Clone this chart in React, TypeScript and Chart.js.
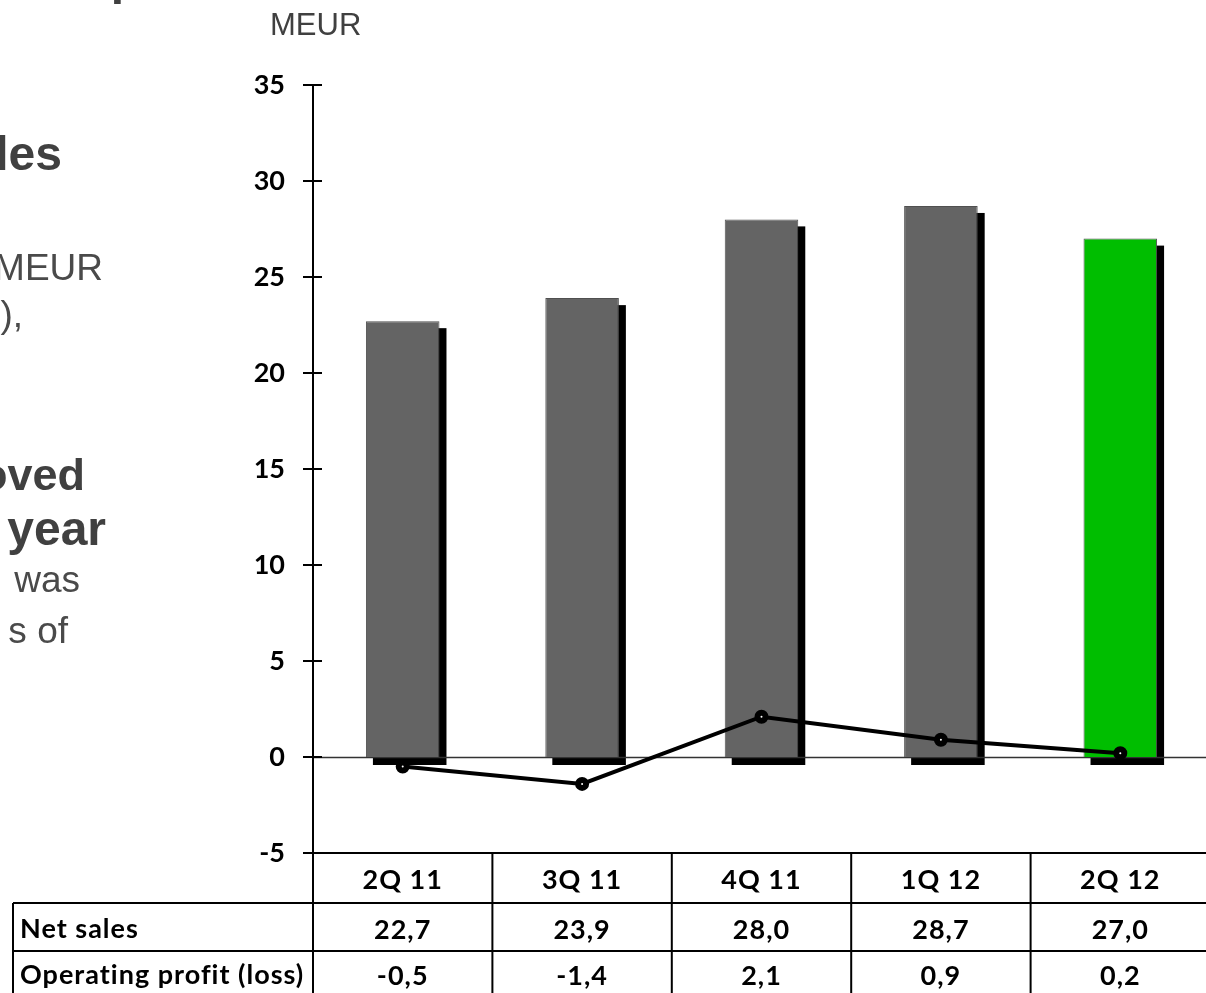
import React, { useEffect, useRef } from "react";
import { Chart, registerables } from "chart.js";

Chart.register(...registerables);

const categories = ["2Q 11", "3Q 11", "4Q 11", "1Q 12", "2Q 12"];
const netSales = [22.7, 23.9, 28.0, 28.7, 27.0];
const operatingProfit = [-0.5, -1.4, 2.1, 0.9, 0.2];
const barColors = ["#646464", "#646464", "#646464", "#646464", "#00BE00"];
const rowLabels = ["Net sales", "Operating profit (loss)"];
const yMin = -5;
const yMax = 35;
const yStep = 5;
const unitLabel = "MEUR";

const fmt = (v: number) => v.toFixed(1).replace(".", ",");

const decorPlugin = {
  id: "decor",
  beforeDatasetsDraw(chart: any) {
    const ctx = chart.ctx;
    const area = chart.chartArea;
    const y = chart.scales.y;
    const meta = chart.getDatasetMeta(0);
    ctx.save();
    // bar shadows
    ctx.fillStyle = "#000";
    meta.data.forEach((bar: any) => {
      const p = bar.getProps(["x", "y", "base", "width"], true);
      ctx.fillRect(p.x - p.width / 2 + 7, p.y + 7, p.width, p.base - p.y + 1);
    });
    // zero line
    const y0 = Math.round(y.getPixelForValue(0)) + 0.5;
    ctx.strokeStyle = "#333";
    ctx.lineWidth = 1.5;
    ctx.beginPath();
    ctx.moveTo(area.left, y0);
    ctx.lineTo(chart.width, y0);
    ctx.stroke();
    ctx.restore();
  },
  afterDraw(chart: any) {
    const ctx = chart.ctx;
    const area = chart.chartArea;
    const y = chart.scales.y;
    const W = chart.width;
    const H = chart.height;
    ctx.save();
    ctx.strokeStyle = "#000";
    ctx.lineWidth = 2;
    // y axis line
    const ax = area.left;
    ctx.beginPath();
    ctx.moveTo(ax, area.top);
    ctx.lineTo(ax, H);
    ctx.stroke();
    // tick marks crossing axis
    for (let v = yMin; v <= yMax; v += yStep) {
      const py = y.getPixelForValue(v);
      ctx.beginPath();
      ctx.moveTo(ax - 10, py);
      ctx.lineTo(ax + 9, py);
      ctx.stroke();
    }
    // table
    const top = area.bottom;
    const r1 = top + 50;
    const r2 = r1 + 48;
    const colW = (area.right - area.left) / categories.length;
    const labelLeft = 13;
    ctx.beginPath();
    ctx.moveTo(ax, top);
    ctx.lineTo(W, top);
    ctx.moveTo(labelLeft, r1);
    ctx.lineTo(W, r1);
    ctx.moveTo(labelLeft, r2);
    ctx.lineTo(W, r2);
    ctx.moveTo(labelLeft, r1);
    ctx.lineTo(labelLeft, H);
    for (let i = 1; i < categories.length; i++) {
      const bx = area.left + i * colW;
      ctx.moveTo(bx, top);
      ctx.lineTo(bx, H);
    }
    ctx.stroke();

    ctx.fillStyle = "#000";
    ctx.font = 'bold 27px Lato';
    (ctx as any).letterSpacing = "1px";
    ctx.textBaseline = "alphabetic";
    ctx.textAlign = "center";
    categories.forEach((c, i) => {
      const cx = area.left + (i + 0.5) * colW;
      ctx.fillText(c, cx, top + 36);
      ctx.fillText(fmt(netSales[i]), cx, r1 + 36);
      ctx.fillText(fmt(operatingProfit[i]), cx, r2 + 34);
    });
    ctx.textAlign = "left";
    ctx.fillText(rowLabels[0], 20, r1 + 35);
    ctx.fillText(rowLabels[1], 20, r2 + 33);
    (ctx as any).letterSpacing = "0px";

    // unit label
    ctx.fillStyle = "#404040";
    ctx.font = '31px "Liberation Sans"';
    ctx.textAlign = "left";
    ctx.fillText(unitLabel, 270, 35);

    // clipped slide text on the left
    ctx.textAlign = "right";
    ctx.font = 'bold 48px "Liberation Sans"';
    ctx.fillText("p", 140, -6);
    ctx.fillText("les", 62, 170);
    ctx.fillText(" year", 106, 545);
    ctx.font = 'bold 45px "Liberation Sans"';
    ctx.fillText("oved", 85, 490);
    ctx.fillStyle = "#4a4a4a";
    ctx.font = '37px "Liberation Sans"';
    ctx.fillText("MEUR", 103, 280);
    ctx.fillText("),", 23, 327);
    ctx.fillText(" was", 80, 592);
    ctx.fillText("s of", 68, 643);
    ctx.restore();
  },
};

export default function App() {
  const ref = useRef<HTMLCanvasElement | null>(null);
  useEffect(() => {
    if (!ref.current) return;
    const chart = new Chart(ref.current, {
      type: "bar",
      data: {
        labels: categories,
        datasets: [
          {
            type: "bar",
            label: "Net sales",
            data: netSales,
            backgroundColor: barColors,
            borderColor: "#505050",
            borderWidth: 1,
            barPercentage: 0.41,
            categoryPercentage: 1,
            order: 1,
          },
          {
            type: "line",
            label: "Operating profit (loss)",
            data: operatingProfit,
            borderColor: "#000",
            borderWidth: 4,
            pointRadius: 4,
            pointBorderWidth: 6,
            pointBackgroundColor: "#fff",
            pointBorderColor: "#000",
            tension: 0,
            order: 0,
          } as any,
        ],
      },
      options: {
        animation: false,
        responsive: true,
        maintainAspectRatio: false,
        layout: { autoPadding: false, padding: { top: 85, bottom: 140, left: 0, right: 0 } },
        plugins: {
          legend: { display: false },
          tooltip: { enabled: false },
        },
        scales: {
          x: {
            display: false,
            offset: true,
          },
          y: {
            min: yMin,
            max: yMax,
            ticks: {
              stepSize: yStep,
              padding: 28,
              color: "#000",
              font: { family: "Lato", size: 27, weight: "bold" },
            },
            grid: { display: false, drawTicks: false },
            border: { display: false },
            afterFit(scale: any) {
              scale.width = 313;
            },
          },
        },
      },
      plugins: [decorPlugin],
    });
    return () => chart.destroy();
  }, []);
  return (
    <div style={{ position: "absolute", left: 0, top: 0, width: 1206, height: 993, overflow: "hidden", background: "#fff" }}>
      <div style={{ position: "absolute", left: 0, top: 0, width: 1210, height: 993 }}>
        <canvas ref={ref} />
      </div>
    </div>
  );
}
